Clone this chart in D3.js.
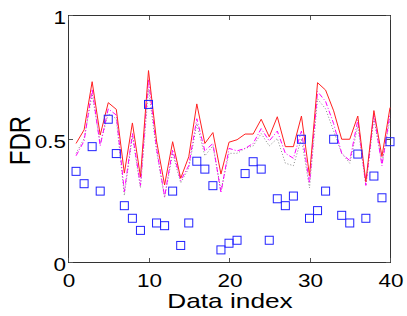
<!DOCTYPE html>
<html><head><meta charset="utf-8">
<script src="https://cdn.jsdelivr.net/npm/d3@7"></script>
<style>html,body{margin:0;padding:0;background:#fff;}svg{display:block;}</style>
</head><body>
<script>
const redSeries = [0.48,0.535,0.73,0.514,0.645,0.618,0.36,0.563,0.345,0.775,0.49,0.312,0.487,0.339,0.426,0.64,0.48,0.524,0.356,0.485,0.495,0.518,0.518,0.578,0.507,0.588,0.467,0.467,0.591,0.35,0.726,0.696,0.612,0.497,0.497,0.591,0.325,0.613,0.427,0.625];
const magentaSeries = [0.43,0.49,0.70,0.47,0.62,0.595,0.285,0.52,0.31,0.74,0.46,0.265,0.455,0.33,0.39,0.58,0.45,0.48,0.28,0.46,0.45,0.46,0.48,0.54,0.49,0.53,0.44,0.42,0.53,0.32,0.69,0.65,0.56,0.44,0.41,0.575,0.31,0.60,0.39,0.60];
const graySeries = [0.44,0.50,0.68,0.48,0.60,0.58,0.27,0.51,0.30,0.70,0.45,0.26,0.44,0.32,0.38,0.56,0.43,0.47,0.29,0.44,0.44,0.46,0.47,0.52,0.47,0.50,0.40,0.39,0.50,0.30,0.66,0.62,0.53,0.44,0.40,0.55,0.31,0.58,0.40,0.58];
const squareSeries = [0.367,0.317,0.467,0.287,0.578,0.439,0.228,0.177,0.128,0.638,0.158,0.147,0.287,0.067,0.158,0.408,0.376,0.309,0.049,0.076,0.088,0.358,0.406,0.376,0.088,0.256,0.228,0.267,0.497,0.177,0.208,0.287,0.497,0.189,0.158,0.437,0.177,0.348,0.26,0.487];
const xTicks = [0,10,20,30,40];
const yTicks = [0,0.5,1];
const yTickLabels = ["0","0.5","1"];

const W = 407, H = 316;
const L = 68, R = 390, T = 15, B = 262;
const SX = 1.25; // horizontal stretch of the text
const svg = d3.select("body").append("svg").attr("width", W).attr("height", H);
const x = d3.scaleLinear().domain([0,40]).range([L,R]);
const y = d3.scaleLinear().domain([0,1]).range([B,T]);
const font = "Liberation Sans, Arial, Helvetica, sans-serif";

// box
svg.append("rect").attr("x", L+0.5).attr("y", T+0.5).attr("width", R-L).attr("height", B-T)
  .attr("fill","none").attr("stroke","#333").attr("stroke-width",1);

// ticks (inside)
const tl = 4;
xTicks.forEach(t => {
  const px = Math.round(x(t)) + 0.5;
  svg.append("line").attr("x1",px).attr("x2",px).attr("y1",B).attr("y2",B-tl).attr("stroke","#555");
  svg.append("line").attr("x1",px).attr("x2",px).attr("y1",T+1).attr("y2",T+1+tl).attr("stroke","#555");
});
yTicks.forEach(t => {
  const py = Math.round(y(t)) + 0.5;
  svg.append("line").attr("x1",L+1).attr("x2",L+1+tl).attr("y1",py).attr("y2",py).attr("stroke","#555");
  svg.append("line").attr("x1",R).attr("x2",R-tl).attr("y1",py).attr("y2",py).attr("stroke","#555");
});

// tick labels
svg.selectAll(".xt").data(xTicks).enter().append("text")
  .attr("transform", d => `translate(${x(d)+1},${B+24.5}) scale(${SX},1)`).attr("text-anchor","middle")
  .attr("font-family", font).attr("font-size", 18).text(d => d);
svg.selectAll(".yt").data(yTicks).enter().append("text")
  .attr("transform", d => `translate(${L-2},${y(d)+9}) scale(${SX},1)`).attr("text-anchor","end")
  .attr("font-family", font).attr("font-size", 18).text((d,i) => yTickLabels[i]);

// axis labels
svg.append("text").attr("transform", `translate(${(L+R)/2+1},308) scale(${SX},1)`).attr("text-anchor","middle")
  .attr("font-family", font).attr("font-size", 21).text("Data index");
svg.append("text").attr("transform", `translate(29.5,${(T+B)/2+2}) scale(${SX},1) rotate(-90)`).attr("text-anchor","middle")
  .attr("font-family", font).attr("font-size", 24).text("FDR");

const idx = d3.range(1, 41);
const line = d3.line().x((d,i) => x(idx[i])).y(d => y(d));

svg.append("path").datum(graySeries).attr("d", line).attr("fill","none")
  .attr("stroke","#888").attr("stroke-width",1).attr("stroke-dasharray","1,2");
svg.append("path").datum(magentaSeries).attr("d", line).attr("fill","none")
  .attr("stroke","#ff00ff").attr("stroke-width",1).attr("stroke-dasharray","5,2,1,2");
svg.append("path").datum(redSeries).attr("d", line).attr("fill","none")
  .attr("stroke","#ff2020").attr("stroke-width",1);

const s = 8;
svg.selectAll(".sq").data(squareSeries).enter().append("rect")
  .attr("x", (d,i) => x(idx[i]) - s/2).attr("y", d => y(d) - s/2)
  .attr("width", s).attr("height", s).attr("fill","none")
  .attr("stroke","#2222ff").attr("stroke-width",1);
</script>
</body></html>
